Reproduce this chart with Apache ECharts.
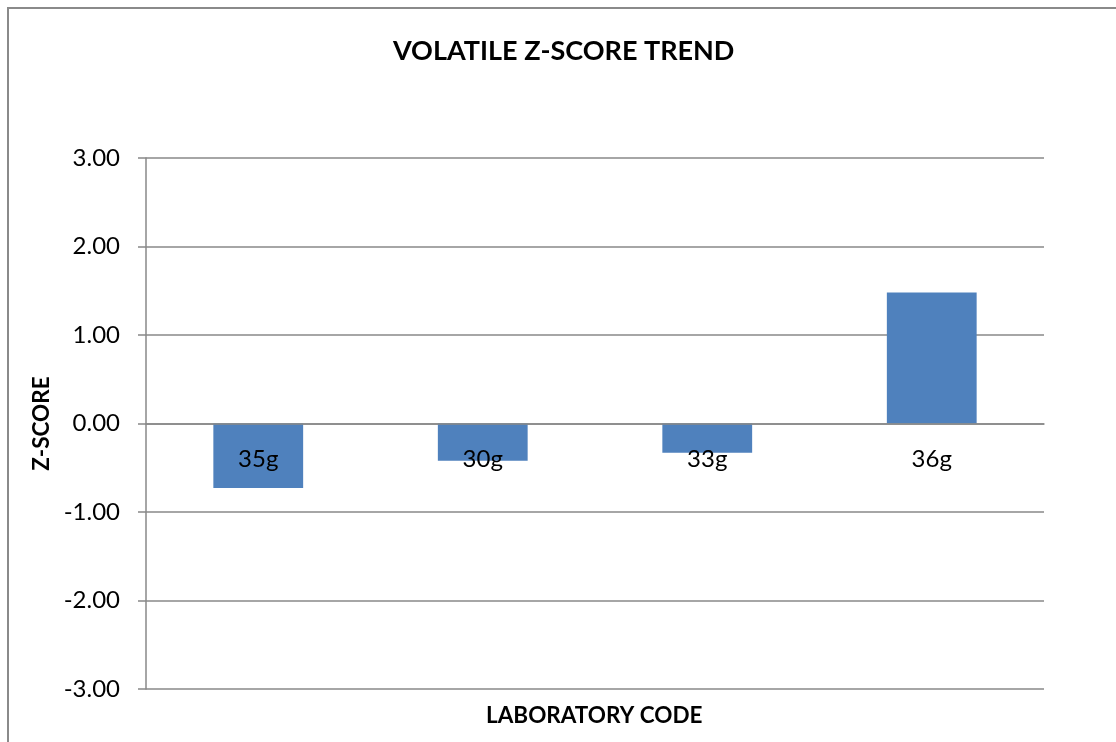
<!DOCTYPE html>
<html>
<head>
<meta charset="utf-8">
<script src="https://cdn.jsdelivr.net/npm/echarts@6/dist/echarts.min.js"></script>
<style>
html,body{margin:0;padding:0;background:#fff;}
#chart{width:1116px;height:742px;}
</style>
</head>
<body>
<div id="chart"></div>
<script>
const categories = ['35g', '30g', '33g', '36g'];
const zScores = [-0.73, -0.42, -0.33, 1.48];
const chartTitle = 'VOLATILE Z-SCORE TREND';
const xAxisName = 'LABORATORY CODE';
const yAxisName = 'Z-SCORE';

const FONT = 'Lato, "Open Sans", sans-serif';
const chart = echarts.init(document.getElementById('chart'), null, {renderer: 'canvas'});
chart.setOption({
  backgroundColor: '#ffffff',
  animation: false,
  title: [
    {text: chartTitle, left: 388, top: 33,
     textStyle: {fontFamily: FONT, fontSize: 27, fontWeight: 'bold', color: '#000'}},
    {text: xAxisName, left: 481, top: 699,
     textStyle: {fontFamily: FONT, fontSize: 22.5, fontWeight: 'bold', color: '#000'}}
  ],
  graphic: [
    {type: 'rect', shape: {x: 8, y: 8, width: 1300, height: 900},
     style: {fill: 'none', stroke: '#8a8a8a', lineWidth: 2}, silent: true}
  ],
  grid: {left: 146, right: 72, top: 158, bottom: 53, containLabel: false},
  xAxis: {
    type: 'category',
    data: categories,
    position: 'bottom',
    offset: -265.5,
    z: 10,
    axisLine: {onZero: false, lineStyle: {color: '#888888', width: 1.5}},
    axisTick: {show: false},
    axisLabel: {margin: 24, fontFamily: FONT, fontSize: 24, color: '#000'}
  },
  yAxis: {
    type: 'value',
    min: -3, max: 3, interval: 1,
    name: yAxisName,
    nameLocation: 'middle',
    nameGap: 89,
    nameRotate: 90,
    nameTextStyle: {fontFamily: FONT, fontSize: 22.5, fontWeight: 'bold', color: '#000'},
    axisLine: {show: true, lineStyle: {color: '#888888', width: 1.5}},
    axisTick: {show: true, length: 8, lineStyle: {color: '#888888', width: 1.5}},
    axisLabel: {margin: 26, fontFamily: FONT, fontSize: 24, color: '#000',
      formatter: v => v.toFixed(2)},
    splitLine: {show: true, lineStyle: {color: '#888888', width: 1.5}}
  },
  series: [{
    type: 'bar',
    data: zScores,
    barWidth: '40%',
    itemStyle: {color: '#4F81BD'}
  }]
});
</script>
</body>
</html>
